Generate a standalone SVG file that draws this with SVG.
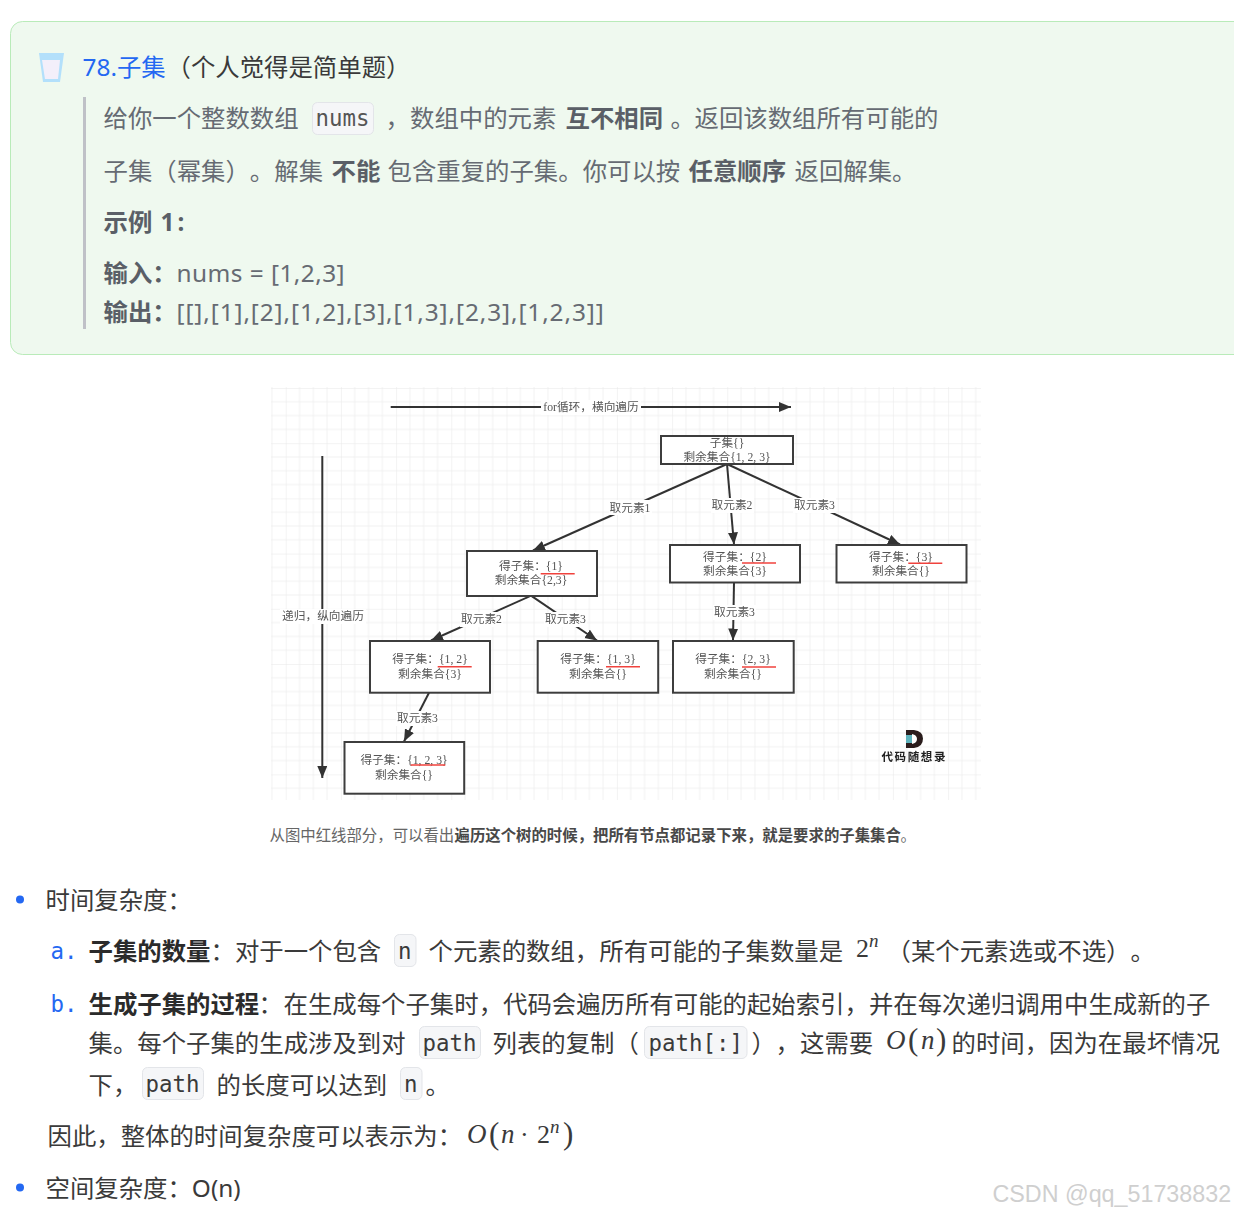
<svg xmlns="http://www.w3.org/2000/svg" width="1234" height="1212" viewBox="0 0 1234 1212">
<style>
text{font-family:"Noto Sans","Noto Sans CJK SC",sans-serif;font-size:24.4px;fill:#3a3a3a;text-spacing-trim:space-all;font-feature-settings:"chws" 0;transform:translate(-.5px,-.1px)}
.q{fill:#666b73}
.qb{fill:#5a5f67;font-weight:700}
.b{font-weight:700;fill:#2b2b2b}
.m{font-family:"DejaVu Sans Mono","Noto Sans CJK SC",monospace;font-size:22.4px;fill:#3a3a3a}
.li{font-family:"DejaVu Sans Mono",monospace;font-size:22.4px;fill:#2468f2}
.code{fill:#f5f6f8;stroke:#e3e5e9;stroke-width:1}
.tex{font-family:"Liberation Serif",serif;font-size:26px;fill:#3a3a3a;transform:none}
.par{font-family:"Liberation Serif",serif;font-size:31px;fill:#3a3a3a;transform:none}
.texi{font-family:"Liberation Serif",serif;font-style:italic;font-size:27px;fill:#3a3a3a;transform:none}
.sup{font-family:"Liberation Serif",serif;font-style:italic;font-size:19px;fill:#3a3a3a;transform:none}
.n{fill:#fff;stroke:#3c3c3c;stroke-width:2}
.t{font-family:"Liberation Serif","Noto Sans CJK SC",serif;font-size:11.7px;fill:#555;text-anchor:middle;transform:translate(0,.2px)}
.lab{fill:#fff}
.e{stroke:#333;stroke-width:2;fill:none}
.r{stroke:#f0423c;stroke-width:1.6}
.cap{font-size:15.4px;fill:#666}
.capb{font-size:15.4px;fill:#484848;font-weight:700}
</style>
<defs>
<pattern id="g" patternUnits="userSpaceOnUse" x="285.7" y="388" width="55.2" height="55.2">
<path d="M13.8 0V55.2M27.6 0V55.2M41.4 0V55.2M0 13.8H55.2M0 27.6H55.2M0 41.4H55.2" stroke="#f1f1f1" stroke-width="1" fill="none"/>
<path d="M0 0V55.2M0 0H55.2" stroke="#e8e8e8" stroke-width="1" fill="none"/>
</pattern>
<marker id="a" markerUnits="userSpaceOnUse" markerWidth="13" markerHeight="12" refX="12" refY="5" orient="auto">
<path d="M0 0L12 5L0 10Z" fill="#333"/>
</marker>
<filter id="soft" x="0" y="0" width="1" height="1"><feGaussianBlur stdDeviation="0.35"/></filter>
</defs>
<rect width="1234" height="1212" fill="#fff"/>

<g id="problem">
<rect x="10.5" y="21.5" width="1240" height="333" rx="12" fill="#eff9ef" stroke="#b9ebb9"/>
<path d="M39 53H64L60 82H43Z" fill="#b3e0fb"/>
<path d="M42 60H60L58 79H45Z" fill="#f3effa"/>
<text x="83" y="76" style="fill:#2468f2">78.子集</text>
<text x="167" y="76">（个人觉得是简单题）</text>
<rect x="83" y="97" width="3" height="232" fill="#bfc1c7"/>
<text class="q" x="104" y="127">给你一个整数数组</text>
<rect class="code" x="312.5" y="102.5" width="61" height="32" rx="5"/>
<text class="m" x="316" y="126" style="fill:#555">nums</text>
<text class="q" x="386" y="127">，</text>
<text class="q" x="410.5" y="127">数组中的元素</text>
<text class="qb" x="566" y="127">互不相同</text>
<text class="q" x="671" y="127">。</text>
<text class="q" x="695" y="127">返回该数组所有可能的</text>
<text class="q" x="104" y="180">子集（幂集）。解集</text>
<text class="qb" x="332" y="180">不能</text>
<text class="q" x="388" y="180">包含重复的子集。你可以按</text>
<text class="qb" x="689" y="180">任意顺序</text>
<text class="q" x="795" y="180">返回解集。</text>
<text class="qb" x="104" y="231">示例</text>
<text class="qb" x="161" y="231" letter-spacing="3">1:</text>
<text class="qb" x="104" y="282">输入：</text>
<text class="q" x="177" y="282" letter-spacing=".45">nums = [1,2,3]</text>
<text class="qb" x="104" y="321">输出：</text>
<text class="q" x="177" y="321" letter-spacing=".9">[[],[1],[2],[1,2],[3],[1,3],[2,3],[1,2,3]]</text>
</g>

<g id="diagram" filter="url(#soft)">
<rect x="271" y="387" width="710" height="413" fill="url(#g)"/>

<g id="connectors">
<path class="e" d="M390.7 407H791" marker-end="url(#a)"/>
<path class="e" d="M322.3 456V778" marker-end="url(#a)"/>
<path class="e" d="M727 464L533 550.5" marker-end="url(#a)"/>
<path class="e" d="M727 464L734 544.5" marker-end="url(#a)"/>
<path class="e" d="M727 464L900 544.5" marker-end="url(#a)"/>
<path class="e" d="M531 595.7L431 640.5" marker-end="url(#a)"/>
<path class="e" d="M531 595.7L597 640.5" marker-end="url(#a)"/>
<path class="e" d="M734 582.5L733 640.5" marker-end="url(#a)"/>
<path class="e" d="M429 692.7L404 741.5" marker-end="url(#a)"/>
</g>

<g id="edge-labels">
<rect class="lab" x="541" y="400" width="100" height="15"/>
<text class="t" x="591" y="411">for循环，横向遍历</text>
<rect class="lab" x="280" y="609" width="86" height="15"/>
<text class="t" x="323" y="620">递归，纵向遍历</text>
<rect class="lab" x="609" y="500" width="43" height="15"/>
<text class="t" x="630" y="511.500">取元素1</text>
<rect class="lab" x="711" y="498" width="43" height="15"/>
<text class="t" x="732" y="509">取元素2</text>
<rect class="lab" x="793" y="498" width="43" height="15"/>
<text class="t" x="814.500" y="509">取元素3</text>
<rect class="lab" x="460" y="612" width="43" height="15"/>
<text class="t" x="481.500" y="623">取元素2</text>
<rect class="lab" x="544" y="612" width="43" height="15"/>
<text class="t" x="565.500" y="623">取元素3</text>
<rect class="lab" x="713" y="605" width="43" height="15"/>
<text class="t" x="734.500" y="616">取元素3</text>
<rect class="lab" x="396" y="711" width="43" height="15"/>
<text class="t" x="417.500" y="722">取元素3</text>
</g>

<g id="node-root">
<rect class="n" x="661" y="436" width="132" height="28"/>
<text class="t" x="727" y="447">子集{}</text>
<text class="t" x="727" y="461">剩余集合{1, 2, 3}</text>
</g>
<g id="node-1">
<rect class="n" x="467" y="551" width="130" height="45"/>
<text class="t" x="531" y="570">得子集：{1}</text>
<text class="t" x="531" y="584">剩余集合{2,3}</text>
<path class="r" d="M540.700 573.700H574.700"/>
</g>
<g id="node-2">
<rect class="n" x="670" y="545" width="130" height="37.500"/>
<text class="t" x="735" y="561">得子集：{2}</text>
<text class="t" x="735" y="575">剩余集合{3}</text>
<path class="r" d="M742 563H776"/>
</g>
<g id="node-3">
<rect class="n" x="836.500" y="545" width="130" height="37.500"/>
<text class="t" x="901" y="561">得子集：{3}</text>
<text class="t" x="901" y="575">剩余集合{}</text>
<path class="r" d="M908.300 563.300H942.300"/>
</g>
<g id="node-12">
<rect class="n" x="370" y="641" width="120" height="51.700"/>
<text class="t" x="430" y="663">得子集：{1, 2}</text>
<text class="t" x="430" y="678">剩余集合{3}</text>
<path class="r" d="M437.700 666.700H471.700"/>
</g>
<g id="node-13">
<rect class="n" x="537.700" y="641" width="120.500" height="51.700"/>
<text class="t" x="598" y="663">得子集：{1, 3}</text>
<text class="t" x="598" y="678">剩余集合{}</text>
<path class="r" d="M606 666.700H640"/>
</g>
<g id="node-23">
<rect class="n" x="673" y="641" width="120.700" height="51.700"/>
<text class="t" x="733" y="663">得子集：{2, 3}</text>
<text class="t" x="733" y="678">剩余集合{}</text>
<path class="r" d="M742 667H776"/>
</g>
<g id="node-123">
<rect class="n" x="344.500" y="742" width="119.700" height="51.700"/>
<text class="t" x="404" y="764">得子集：{1, 2, 3}</text>
<text class="t" x="404" y="779">剩余集合{}</text>
<path class="r" d="M410.700 765H445.300"/>
</g>
<g id="logo">
<path d="M906 730H914Q923 731 923 738.500Q923 747 914 748H906Z" fill="#2a1f1c"/>
<path d="M906 735H915V743H906Z" fill="#5fb3bd"/>
<path d="M912 734Q917 735 917 739Q917 743 912 744Z" fill="#fff"/>
<text x="882" y="761" style="font-size:11.500px;font-weight:700;letter-spacing:1.600px;fill:#222">代码随想录</text>
</g>
</g>

<g id="caption">
<text class="cap" x="270" y="841">从图中红线部分，可以看出</text>
<text class="capb" x="455" y="841">遍历这个树的时候，把所有节点都记录下来，就是要求的子集集合</text>
<text class="cap" x="901" y="841">。</text>
</g>

<g id="analysis">
<circle cx="20" cy="899.500" r="4" fill="#2468f2"/>
<text x="46" y="909">时间复杂度：</text>
<text class="li" x="51" y="959">a.</text>
<text class="b" x="89" y="960">子集的数量</text>
<text x="211" y="960">：对于一个包含</text>
<rect class="code" x="394.500" y="934.500" width="21.500" height="32" rx="5"/>
<text class="m" x="398.500" y="959">n</text>
<text x="429" y="960">个元素的数组，所有可能的子集数量是</text>
<text class="tex" x="856" y="957">2</text>
<text class="sup" x="869" y="947">n</text>
<text x="887" y="960">（某个元素选或不选）。</text>

<text class="li" x="51" y="1012">b.</text>
<text class="b" x="89" y="1013">生成子集的过程</text>
<text x="259" y="1013">：</text>
<text x="284" y="1013">在生成每个子集时，代码会遍历所有可能的起始索引，并在每次递归调用中生成新的子</text>

<text x="89" y="1052">集。每个子集的生成涉及到对</text>
<rect class="code" x="419.500" y="1026.500" width="61" height="32" rx="5"/>
<text class="m" x="423" y="1051">path</text>
<text x="493" y="1052">列表的复制</text>
<text x="615" y="1052">（</text>
<rect class="code" x="644.500" y="1026.500" width="102.500" height="32" rx="5"/>
<text class="m" x="649" y="1051">path[:]</text>
<text x="752" y="1052">）</text>
<text x="776" y="1052">，</text>
<text x="800.500" y="1052">这需要</text>
<text class="texi" x="886" y="1049">O</text><text class="par" x="908" y="1050">(</text><text class="texi" x="921" y="1049">n</text><text class="par" x="936" y="1050">)</text>
<text x="952" y="1052">的时间，因为在最坏情况</text>

<text x="89" y="1094">下，</text>
<rect class="code" x="142.500" y="1067.500" width="61" height="32" rx="5"/>
<text class="m" x="146" y="1092">path</text>
<text x="217" y="1094">的长度可以达到</text>
<rect class="code" x="400.500" y="1067.500" width="21.500" height="32" rx="5"/>
<text class="m" x="404.500" y="1092">n</text>
<text x="426" y="1094">。</text>

<text x="48" y="1145">因此，整体的时间复杂度可以表示为：</text>
<text class="texi" x="467" y="1143">O</text><text class="par" x="489" y="1144">(</text><text class="texi" x="501" y="1143">n</text><text class="tex" x="520" y="1143">·</text><text class="tex" x="537" y="1143">2</text><text class="sup" x="550" y="1133">n</text><text class="par" x="563" y="1144">)</text>

<circle cx="20" cy="1187.500" r="4" fill="#2468f2"/>
<text x="46" y="1197">空间复杂度：O(n)</text>
</g>

<text id="watermark" x="993" y="1202" style="font-family:'Liberation Sans',sans-serif;font-size:23.300px;fill:#cfcfcf">CSDN @qq_51738832</text>
</svg>
